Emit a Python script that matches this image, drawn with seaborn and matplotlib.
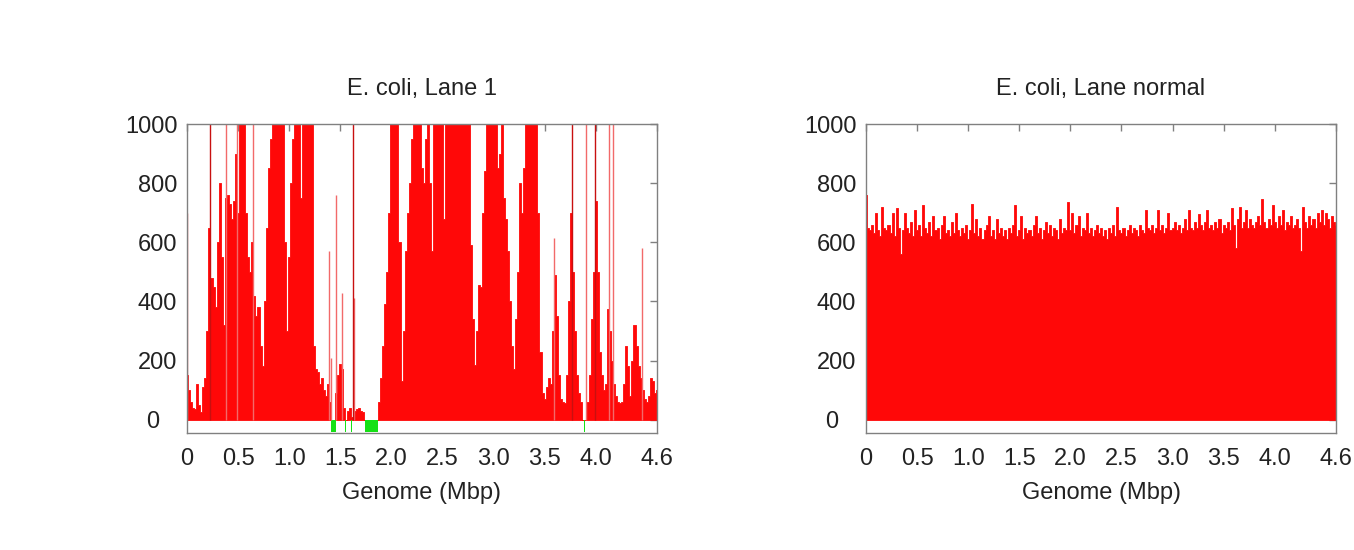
import numpy as np
import pandas as pd
import matplotlib
matplotlib.use('Agg')
import matplotlib.pyplot as plt
import matplotlib.transforms as mtransforms
import seaborn as sns

########################################################################################################################################
# read-depth values, one per 0.02 Mbp window, 0.00 .. 4.60 Mbp

step = 0.02
positions = np.round(np.arange(0, 4.6 + step / 2, step), 2)

lane1_cov = [
    150, 100, 60, 40, 35, 120, 50, 25, 110, 140,
    300, 650, 480, 450, 380, 600, 800, 550, 320, 750,
    760, 730, 680, 740, 900, 700, 1000, 1000, 1000, 700,
    550, 500, 600, 420, 350, 380, 250, 180, 400, 650,
    850, 950, 1000, 1000, 1000, 1000, 1000, 1000, 600, 300,
    550, 800, 950, 1000, 1000, 1000, 750, 1000, 1000, 1000,
    1000, 1000, 250, 170, 160, 120, 140, 100, 80, 120,
    60, 0, 0, 90, 150, 190, 170, 40, 0, 30,
    40, 10, 30, 35, 40, 30, 25, 0, 0, 0,
    0, 0, 0, 0, 60, 140, 250, 390, 500, 700,
    1000, 1000, 1000, 1000, 600, 130, 300, 570, 700, 800,
    950, 1000, 1000, 1000, 1000, 850, 800, 950, 1000, 800,
    570, 1000, 1000, 1000, 1000, 1000, 680, 1000, 1000, 1000,
    1000, 1000, 1000, 1000, 1000, 1000, 1000, 1000, 1000, 590,
    340, 185, 300, 455, 450, 700, 840, 1000, 1000, 1000,
    1000, 1000, 850, 900, 1000, 750, 680, 570, 400, 250,
    170, 340, 500, 800, 700, 850, 1000, 1000, 1000, 1000,
    1000, 1000, 700, 230, 90, 70, 110, 140, 120, 300,
    490, 350, 150, 70, 60, 55, 150, 400, 700, 500,
    300, 150, 90, 60, 0, 0, 60, 150, 340, 500,
    740, 500, 230, 150, 100, 120, 375, 300, 200, 120,
    80, 60, 55, 60, 120, 250, 180, 80, 200, 320,
    250, 180, 140, 100, 70, 60, 80, 140, 130, 90,
    100,
]

normal_cov = [
    760, 650, 640, 660, 630, 700, 640, 620, 720, 650,
    640, 660, 630, 700, 620, 715, 650, 560, 640, 700,
    650, 630, 670, 620, 710, 640, 660, 620, 725, 650,
    630, 670, 620, 690, 640, 650, 610, 660, 690, 630,
    640, 620, 670, 630, 700, 640, 620, 650, 630, 660,
    610, 640, 730, 630, 680, 620, 650, 610, 640, 660,
    690, 620, 640, 610, 680, 630, 650, 620, 640, 610,
    650, 630, 660, 725, 620, 640, 690, 610, 650, 630,
    640, 620, 660, 690, 630, 650, 610, 640, 670, 630,
    660, 620, 650, 640, 610, 680, 630, 650, 640, 735,
    640, 700, 630, 660, 690, 620, 650, 640, 700, 630,
    650, 620, 640, 660, 630, 650, 620, 640, 610, 650,
    630, 660, 620, 720, 640, 630, 650, 620, 640, 660,
    630, 650, 640, 620, 660, 640, 630, 710, 650, 640,
    660, 630, 650, 710, 640, 660, 630, 650, 700, 640,
    650, 670, 640, 660, 630, 650, 680, 640, 710, 650,
    640, 670, 650, 695, 660, 640, 670, 710, 650, 660,
    640, 670, 650, 680, 630, 660, 650, 670, 640, 715,
    660, 580, 680, 720, 650, 670, 710, 650, 680, 660,
    650, 670, 690, 660, 745, 670, 650, 680, 660, 725,
    670, 650, 690, 660, 710, 640, 670, 660, 690, 650,
    660, 680, 650, 570, 720, 670, 650, 690, 660, 680,
    650, 700, 670, 710, 660, 700, 680, 650, 690, 670,
    660,
]

# single-window spikes in lane 1 (thin lines)
spike_pos = [0.00, 0.385, 0.49, 0.65, 1.386, 1.41, 1.455, 1.515, 1.632, 3.595, 3.91, 4.13, 4.17, 4.455]
spike_val = [700, 1000, 1000, 1000, 570, 210, 760, 430, 410, 615, 1000, 1000, 1000, 580]
dark_spike_pos = [0.225, 1.624, 3.765, 3.995]
dark_spike_val = [1000, 1000, 1000, 1000]

# uncovered stretches in lane 1
gap_start = [1.405, 1.545, 1.607, 1.738, 3.885]
gap_end = [1.455, 1.560, 1.620, 1.870, 3.900]

xtick_vals = [0, 0.5, 1.0, 1.5, 2.0, 2.5, 3.0, 3.5, 4.0, 4.6]
xtick_labels = ['0', '0.5', '1.0', '1.5', '2.0', '2.5', '3.0', '3.5', '4.0', '4.6']
ytick_vals = [0, 200, 400, 600, 800, 1000]

########################################################################################################################################

sns.set_style('white')
plt.rcParams['font.family'] = ['Liberation Sans', 'DejaVu Sans']
plt.rcParams['font.size'] = 17

RED = '#ff0808'
GREY = '#808080'
TXT = '#222222'

fig = plt.figure(figsize=(13.54, 5.5), dpi=100)
ax1 = fig.add_axes([0.1381, 0.2127, 0.3471, 0.5618])
ax2 = fig.add_axes([0.6396, 0.2127, 0.3471, 0.5618])

df1 = pd.DataFrame({'pos': positions, 'cov': lane1_cov})
df2 = pd.DataFrame({'pos': positions, 'cov': normal_cov})

hist_kws = dict(x='pos', weights='cov', binwidth=step, binrange=(-step / 2, 4.6 + step / 2),
                element='step', fill=True, color=RED, alpha=1, linewidth=0.6)

sns.histplot(data=df1, ax=ax1, **hist_kws)
ax1.vlines(spike_pos, 0, spike_val, color='#f26a6a', linewidth=1)
ax1.vlines(dark_spike_pos, 0, dark_spike_val, color='#c81010', linewidth=1)
for s, e in zip(gap_start, gap_end):
    ax1.bar(s, -42, width=e - s, bottom=0, align='edge', color='#16e016', linewidth=0)

sns.histplot(data=df2, ax=ax2, **hist_kws)

for ax, title in [(ax1, 'E. coli, Lane 1'), (ax2, 'E. coli, Lane normal')]:
    ax.set_xlim(0, 4.6)
    ax.set_ylim(-45, 1000)
    ax.set_xticks(xtick_vals)
    ax.set_xticklabels(xtick_labels)
    ax.set_yticks(ytick_vals)
    ax.set_title(title, pad=21, color=TXT, fontsize=17)
    ax.set_xlabel('Genome (Mbp)', labelpad=9, color=TXT)
    ax.set_ylabel('')
    ax.tick_params(direction='in', length=5, width=1, color=GREY, labelcolor=TXT,
                   top=True, right=True)
    ax.tick_params(axis='x', pad=10.5)
    ax.tick_params(axis='y', pad=7)
    for sp in ax.spines.values():
        sp.set_color(GREY)
        sp.set_linewidth(1)
    # gnuplot puts the "0" label a little further out
    for lab in ax.get_yticklabels():
        if lab.get_text() == '0':
            lab.set_transform(lab.get_transform() + mtransforms.ScaledTranslation(-13 / 72, 0, fig.dpi_scale_trans))

fig.savefig('out.png', dpi=100, facecolor='white')
